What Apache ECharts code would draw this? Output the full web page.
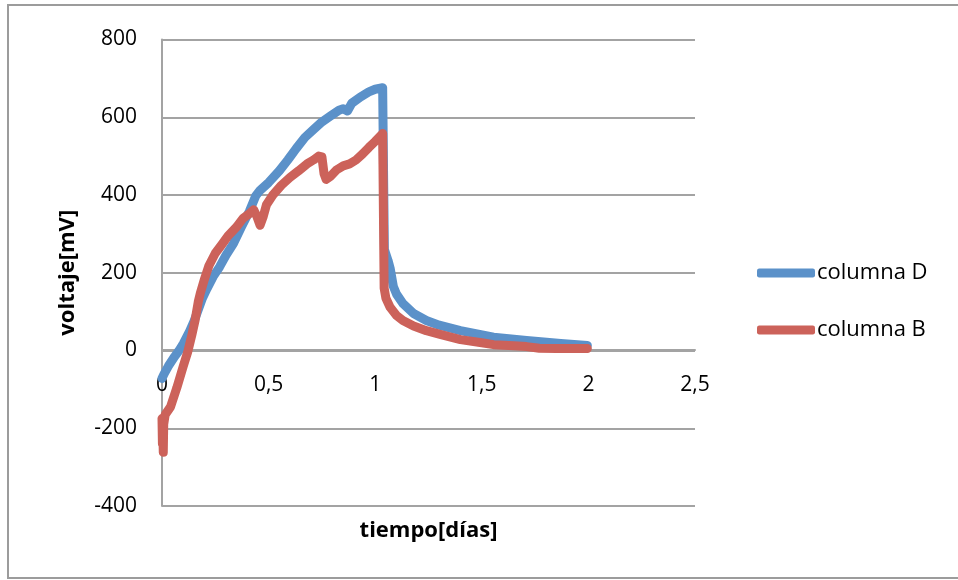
<!DOCTYPE html>
<html>
<head>
<meta charset="utf-8">
<script src="https://cdn.jsdelivr.net/npm/echarts@6/dist/echarts.min.js"></script>
<style>
  html, body { margin: 0; padding: 0; background: #fff; }
  #chart { width: 958px; height: 580px; }
</style>
</head>
<body>
<div id="chart"></div>
<script>
// tiempo [días] / voltaje [mV]
const tD = [0, 0.01, 0.03, 0.06, 0.08, 0.10, 0.13, 0.15, 0.17, 0.19, 0.21, 0.24, 0.27, 0.30, 0.335, 0.37, 0.41, 0.44, 0.46, 0.50, 0.55, 0.59, 0.63, 0.67, 0.71, 0.75, 0.79, 0.83, 0.85, 0.87, 0.89, 0.93, 0.97, 1.00, 1.035, 1.04, 1.043, 1.06, 1.07, 1.085, 1.10, 1.13, 1.18, 1.24, 1.30, 1.40, 1.555, 1.71, 1.87, 1.995];
const vD = [-72, -60, -40, -15, 0, 18, 50, 75, 105, 135, 158, 190, 215, 245, 275, 315, 358, 398, 412, 432, 462, 490, 520, 548, 568, 588, 603, 618, 622, 616, 636, 652, 665, 672, 676, 676, 260, 232, 212, 165, 145, 121, 95, 77, 65, 51, 34, 26, 18, 13];

const tB = [0, 0.002, 0.004, 0.006, 0.008, 0.015, 0.04, 0.07, 0.10, 0.12, 0.14, 0.155, 0.17, 0.18, 0.20, 0.22, 0.25, 0.28, 0.31, 0.35, 0.38, 0.41, 0.43, 0.445, 0.46, 0.475, 0.49, 0.52, 0.56, 0.60, 0.64, 0.68, 0.71, 0.735, 0.75, 0.76, 0.77, 0.79, 0.82, 0.85, 0.88, 0.91, 0.94, 0.97, 1.00, 1.035, 1.04, 1.042, 1.05, 1.07, 1.10, 1.13, 1.18, 1.24, 1.30, 1.40, 1.50, 1.555, 1.65, 1.71, 1.77, 1.85, 1.995];
const vB = [-175, -240, -205, -262, -190, -165, -145, -95, -40, -5, 40, 77, 125, 148, 185, 218, 250, 272, 295, 318, 340, 352, 362, 345, 322, 345, 375, 400, 425, 445, 462, 480, 490, 500, 498, 455, 440, 448, 465, 475, 480, 490, 505, 522, 538, 558, 555, 160, 135, 111, 90, 77, 63, 51, 42, 28, 20, 15, 12, 10, 6, 5, 5];

const seriesNames = ["columna D", "columna B"];
const seriesColors = ["#5b91c9", "#cc625a"];

const pairs = (t, v) => t.map((x, i) => [x, v[i]]);

const chart = echarts.init(document.getElementById("chart"));
const font = "'Open Sans', 'Noto Sans', sans-serif";
const gray = "#a3a3a3";

const option = {
  animation: false,
  backgroundColor: "#fff",
  textStyle: { fontFamily: font },
  graphic: [
    {
      type: "rect",
      shape: { x: 8, y: 5, width: 960, height: 573 },
      style: { fill: "none", stroke: "#9c9c9c", lineWidth: 2 },
      silent: true,
    },
  ],
  grid: { left: 162, right: 263, top: 39.5, bottom: 74, outerBoundsMode: "none", containLabel: false },
  legend: {
    orient: "vertical",
    left: 752,
    top: 256,
    itemWidth: 58,
    itemHeight: 9,
    itemGap: 33,
    icon: "roundRect",
    textStyle: { fontFamily: font, fontSize: 22, color: "#000", lineHeight: 20, padding: [4, 0, 0, -3] },
    data: seriesNames,
  },
  xAxis: {
    type: "value",
    min: 0,
    max: 2.5,
    interval: 0.5,
    // axis sits on the zero line, 156px above the grid bottom
    offset: -156,
    name: "tiempo[días]",
    nameLocation: "middle",
    nameGap: 170,
    nameTextStyle: { fontFamily: font, fontSize: 22, fontWeight: "bold", color: "#000" },
    axisLine: { onZero: false, lineStyle: { color: gray, width: 2 } },
    axisTick: { show: false },
    splitLine: { show: false },
    axisLabel: {
      margin: 25,
      fontSize: 21,
      color: "#000",
      fontFamily: font,
      formatter: (v) => String(v).replace(".", ","),
    },
  },
  yAxis: {
    type: "value",
    min: -400,
    max: 800,
    interval: 200,
    name: "voltaje[mV]",
    nameLocation: "middle",
    nameGap: 83,
    nameTextStyle: { fontFamily: font, fontSize: 22, fontWeight: "bold", color: "#000" },
    axisLine: { show: true, lineStyle: { color: gray, width: 2 } },
    axisTick: { show: false },
    splitLine: { lineStyle: { color: gray, width: 2 } },
    axisLabel: { margin: 25, fontSize: 21, color: "#000", fontFamily: font },
  },
  series: [
    {
      name: seriesNames[0],
      type: "line",
      data: pairs(tD, vD),
      showSymbol: false,
      symbol: "none",
      color: seriesColors[0],
      lineStyle: { width: 9, color: seriesColors[0], cap: "round", join: "round" },
    },
    {
      name: seriesNames[1],
      type: "line",
      data: pairs(tB, vB),
      showSymbol: false,
      symbol: "none",
      color: seriesColors[1],
      lineStyle: { width: 9, color: seriesColors[1], cap: "round", join: "round" },
    },
  ],
};

chart.setOption(option);
</script>
</body>
</html>
